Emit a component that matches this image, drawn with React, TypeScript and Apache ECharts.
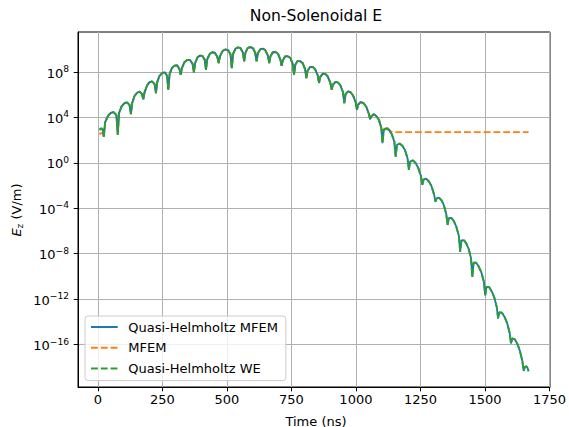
import React, { useEffect, useRef } from "react";
import * as echarts from "echarts";

// ---- data (time in ns, Ez in V/m) ----
// Quasi-Helmholtz MFEM and Quasi-Helmholtz WE lie on top of each other.
const qhTimeNs = [
  6, 10, 14, 18, 21, 23,
  28, 39, 50, 61, 72, 77,
  82, 92, 103, 113, 123, 128,
  133, 142, 152, 162, 171, 176,
  181, 191, 200, 210, 220, 225,
  230, 239, 249, 259, 268, 273,
  278, 287, 297, 307, 316, 321,
  326, 336, 347, 357, 367, 372,
  377, 386, 396, 405, 414, 419,
  424, 434, 444, 453, 463, 468,
  473, 483, 494, 504, 514, 519,
  524, 533, 543, 553, 562, 567,
  572, 581, 591, 601, 610, 615,
  620, 630, 640, 649, 659, 664,
  669, 678, 688, 698, 707, 712,
  717, 726, 736, 746, 755, 760,
  765, 774, 784, 794, 803, 808,
  813, 823, 833, 842, 852, 857,
  862, 872, 882, 891, 901, 906,
  911, 921, 931, 940, 950, 955,
  960, 970, 980, 989, 999, 1004,
  1009, 1019, 1030, 1040, 1050, 1055,
  1060, 1069, 1079, 1089, 1098, 1103,
  1108, 1118, 1129, 1139, 1149, 1154,
  1159, 1169, 1180, 1190, 1200, 1205,
  1210, 1221, 1231, 1241, 1252, 1257,
  1262, 1272, 1283, 1293, 1303, 1308,
  1313, 1322, 1332, 1341, 1350, 1355,
  1360, 1370, 1380, 1389, 1399, 1404,
  1409, 1418, 1428, 1437, 1446, 1451,
  1456, 1466, 1476, 1486, 1496, 1501,
  1506, 1516, 1526, 1536, 1546, 1551,
  1556, 1566, 1576, 1586, 1596, 1601,
  1606, 1616, 1626, 1635, 1645, 1650,
  1655, 1660, 1665, 1669,
];

const qhEz = [
  7.9e2, 1.0e3, 1.1e3, 8.9e2, 5.0e2, 2.0e2,
  3.7e3, 1.4e4, 2.5e4, 3.0e4, 1.6e4, 3.0e2,
  2.4e4, 9.5e4, 1.8e5, 2.1e5, 1.2e5, 2.0e4,
  1.9e5, 7.8e5, 1.5e6, 1.9e6, 1.1e6, 4.0e5,
  1.7e6, 6.8e6, 1.3e7, 1.5e7, 8.5e6, 1.4e6,
  1.3e7, 4.7e7, 8.1e7, 9.3e7, 5.0e7, 2.8e6,
  6.8e7, 2.3e8, 3.7e8, 3.9e8, 1.9e8, 5.8e7,
  2.4e8, 7.8e8, 1.2e9, 1.15e9, 5.4e8, 9.3e7,
  6.3e8, 2.0e9, 2.8e9, 2.7e9, 1.2e9, 1.6e8,
  1.4e9, 4.1e9, 5.6e9, 5.1e9, 2.2e9, 6.3e8,
  2.4e9, 7.1e9, 9.8e9, 8.7e9, 3.7e9, 2.2e8,
  4.0e9, 1.12e10, 1.5e10, 1.26e10, 5.1e9, 8.7e8,
  5.2e9, 1.35e10, 1.6e10, 1.3e10, 4.8e9, 8.7e8,
  4.5e9, 1.05e10, 1.15e10, 8.3e9, 2.8e9, 6.3e8,
  2.5e9, 5.6e9, 5.9e9, 4.1e9, 1.32e9, 3.6e8,
  1.1e9, 2.45e9, 2.5e9, 1.7e9, 5.4e8, 5.8e7,
  4.4e8, 9.3e8, 9.1e8, 5.9e8, 1.8e8, 3.0e7,
  1.4e8, 2.9e8, 2.8e8, 1.7e8, 5.1e7, 1.1e7,
  3.8e7, 7.4e7, 6.8e7, 4.0e7, 1.1e7, 2.8e6,
  7.9e6, 1.4e7, 1.2e7, 6.6e6, 1.7e6, 1.8e5,
  1.15e6, 2.0e6, 1.6e6, 8.7e5, 2.2e5, 4.8e4,
  1.4e5, 2.3e5, 1.8e5, 8.9e4, 2.1e4, 7.1e3,
  1.3e4, 1.9e4, 1.35e4, 6.3e3, 1.4e3, 55,
  7.8e2, 1.1e3, 7.6e2, 3.4e2, 71, 3.6,
  38, 51, 32, 13.5, 2.6, 0.24,
  1.3, 1.66, 0.98, 0.38, 7.1e-2, 1.15e-2,
  3.3e-2, 4.1e-2, 2.3e-2, 8.9e-3, 1.6e-3, 3.9e-4,
  7.4e-4, 8.9e-4, 4.9e-4, 1.8e-4, 3.2e-5, 3.4e-6,
  1.35e-5, 1.45e-5, 7.2e-6, 2.4e-6, 3.7e-7, 1.5e-8,
  1.5e-7, 1.6e-7, 7.9e-8, 2.6e-8, 4.1e-9, 9.1e-11,
  1.6e-9, 1.6e-9, 7.4e-10, 2.3e-10, 3.3e-11, 2.2e-12,
  1.2e-11, 1.15e-11, 5.0e-12, 1.45e-12, 1.95e-13, 2.0e-14,
  6.9e-14, 6.3e-14, 2.7e-14, 7.8e-15, 1.0e-15, 1.26e-16,
  3.4e-16, 2.9e-16, 1.1e-16, 3.0e-17, 3.6e-18, 4.7e-19,
  1.1e-18, 1.2e-18, 8.9e-19, 4.5e-19,
];

// MFEM: differs from the QH curves at the start and after ~1090 ns
const mfemHeadTimeNs = [6, 10, 14, 18, 21, 23];
const mfemHeadEz = [4.2e2, 3.5e2, 4.5e2, 4.0e2, 3.0e2, 2.0e2];
const mfemSharedFrom = 28;
const mfemSharedTo = 1089;
const mfemTailTimeNs = [1096, 1103, 1110, 1118, 1126, 1134, 1142, 1200, 1300, 1400, 1500, 1600, 1669];
const mfemTailEz = [1.6e3, 5.6e2, 1.1e3, 1.4e3, 1.0e3, 6.3e2, 5.2e2, 5.1e2, 5.1e2, 5.1e2, 5.1e2, 5.1e2, 5.1e2];

const seriesNames = ["Quasi-Helmholtz MFEM", "MFEM", "Quasi-Helmholtz WE"];
const seriesColors = ["#1f77b4", "#ff7f0e", "#2ca02c"];

const xTicks = [0, 250, 500, 750, 1000, 1250, 1500, 1750];
const yTickExponents = [-16, -12, -8, -4, 0, 4, 8];
const xRange = [-77, 1752];
const yExpRange = [-19.74, 11.53];

const FONT = '"DejaVu Sans", sans-serif';
const FS = 13;
const FS_TITLE = 15.6;
const FS_SUP = 9.1;

function toPairs(t: number[], v: number[]) {
  return t.map((x, i) => [x, Math.log10(v[i])]);
}

export default function App() {
  const ref = useRef<HTMLDivElement>(null);

  useEffect(() => {
    if (!ref.current) return;
    const chart = echarts.init(ref.current, null, { renderer: "svg", width: 569, height: 427 });

    const qhData = toPairs(qhTimeNs, qhEz);
    const mfemData = [
      ...toPairs(mfemHeadTimeNs, mfemHeadEz),
      ...qhData.filter((p) => p[0] >= mfemSharedFrom && p[0] <= mfemSharedTo),
      ...toPairs(mfemTailTimeNs, mfemTailEz),
    ];

    const dash = [6.85, 2.96];
    const lineW = 1.85;

    const mkSeries = (name: string, color: string, data: number[][], dashed: boolean) => ({
      name,
      type: "line",
      data,
      showSymbol: false,
      symbol: "none",
      clip: true,
      lineStyle: { color, width: lineW, type: dashed ? dash : "solid" },
      itemStyle: { color },
      emphasis: { disabled: true },
    });

    const supText = (v: number) => String(v).replace("-", "\u2212");

    const option: any = {
      animation: false,
      backgroundColor: "#ffffff",
      grid: {
        left: 78,
        top: 32,
        width: 476,
        height: 355,
        show: true,
        borderColor: "#000",
        borderWidth: 1,
        backgroundColor: "transparent",
        containLabel: false,
      },
      xAxis: {
        type: "value",
        min: xRange[0],
        max: xRange[1],
        axisLine: { show: true, onZero: false, lineStyle: { color: "#000", width: 1 } },
        axisTick: { show: true, length: 4.3, customValues: xTicks, lineStyle: { color: "#000", width: 1 } },
        axisLabel: {
          customValues: xTicks,
          margin: 6,
          fontSize: FS,
          fontFamily: FONT,
          color: "#000",
          formatter: (v: number) => String(v),
        },
        splitLine: { show: true, lineStyle: { color: "#b0b0b0", width: 1 } },
      },
      yAxis: {
        type: "value",
        min: yExpRange[0],
        max: yExpRange[1],
        axisLine: { show: true, onZero: false, lineStyle: { color: "#000", width: 1 } },
        axisTick: { show: true, length: 4.3, customValues: yTickExponents, lineStyle: { color: "#000", width: 1 } },
        axisLabel: {
          customValues: yTickExponents,
          margin: 9,
          color: "#000",
          fontFamily: FONT,
          formatter: (v: number) => `{b|10}{s|${supText(v)}}`,
          rich: {
            b: { fontSize: FS, fontFamily: FONT, color: "#000", lineHeight: 15, padding: [4, 0, 0, 0], verticalAlign: "bottom" },
            s: { fontSize: FS_SUP, fontFamily: FONT, color: "#000", lineHeight: 12, verticalAlign: "top" },
          },
        },
        splitLine: { show: true, lineStyle: { color: "#b0b0b0", width: 1 } },
      },
      legend: {
        orient: "vertical",
        left: 85,
        top: 316,
        padding: [4, 8, 5, 5],
        itemWidth: 26.7,
        itemHeight: 14,
        itemGap: 6.8,
        backgroundColor: "rgba(255,255,255,0.8)",
        borderColor: "#cccccc",
        borderWidth: 1,
        borderRadius: 3,
        itemStyle: { opacity: 0, borderWidth: 0 },
        textStyle: { fontSize: FS, fontFamily: FONT, color: "#000", lineHeight: 14, padding: [0, 0, 0, 5.6] },
        data: seriesNames,
      },
      graphic: [
        {
          type: "text",
          x: 316,
          y: 16,
          style: {
            text: "Non-Solenoidal E",
            fill: "#000",
            font: `${FS_TITLE}px ${FONT}`,
            textAlign: "center",
            textVerticalAlign: "middle",
          },
        },
        {
          type: "text",
          x: 316,
          y: 421,
          style: {
            text: "Time (ns)",
            fill: "#000",
            font: `${FS}px ${FONT}`,
            textAlign: "center",
            textVerticalAlign: "middle",
          },
        },
        {
          type: "text",
          x: 16,
          y: 210,
          rotation: Math.PI / 2,
          style: {
            text: "{i|E}{s|z}{n| (V/m)}",
            fill: "#000",
            font: `${FS}px ${FONT}`,
            textAlign: "center",
            textVerticalAlign: "middle",
            rich: {
              i: { fontSize: FS, fontFamily: FONT, fontStyle: "italic", lineHeight: 16, verticalAlign: "middle" },
              s: { fontSize: FS_SUP, fontFamily: FONT, lineHeight: 10, verticalAlign: "bottom" },
              n: { fontSize: FS, fontFamily: FONT, lineHeight: 16, verticalAlign: "middle" },
            },
          },
        },
      ],
      // MFEM drawn first so that, where the curves coincide, the blue solid line
      // shows through the gaps of the green dashes (as in the reference)
      series: [
        mkSeries(seriesNames[1], seriesColors[1], mfemData, true),
        mkSeries(seriesNames[0], seriesColors[0], qhData, false),
        mkSeries(seriesNames[2], seriesColors[2], qhData, true),
      ],
    };

    chart.setOption(option);
    return () => chart.dispose();
  }, []);

  return (
    <div
      ref={ref}
      style={{ position: "absolute", left: 0, top: 0, width: 569, height: 427 }}
    />
  );
}
